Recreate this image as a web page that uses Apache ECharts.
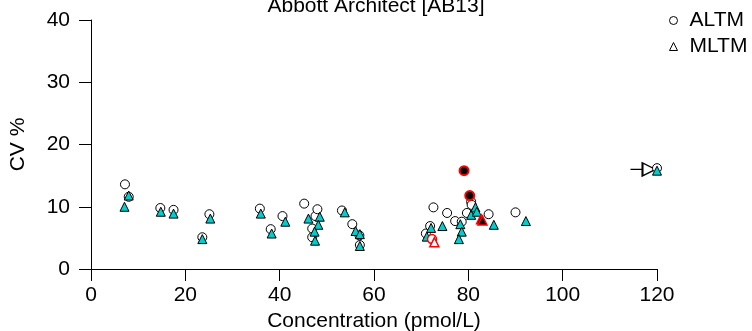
<!DOCTYPE html>
<html><head><meta charset="utf-8">
<script src="https://cdn.jsdelivr.net/npm/echarts@6/dist/echarts.min.js"></script>
<style>html,body{margin:0;padding:0;background:#fff}#c{width:752px;height:331px}</style>
</head><body><div id="c"></div>
<script>
const titleText = 'Abbott Architect [AB13]';
const xName = 'Concentration (pmol/L)';
const yName = 'CV %';
const xTicks = [0, 20, 40, 60, 80, 100, 120];
const yTicks = [0, 10, 20, 30, 40];
const altm = [[7.2,13.6],[8.0,11.6],[14.7,9.8],[17.5,9.5],[23.6,5.1],[25.1,8.8],[35.8,9.7],[38.1,6.4],[40.6,8.5],[45.2,10.5],[46.9,6.5],[46.9,5.1],[47.6,8.5],[48.0,9.6],[53.2,9.4],[55.4,7.2],[56.9,5.4],[57.0,3.85],[71.0,5.7],[71.9,6.9],[72.6,9.9],[75.5,9.0],[77.2,7.7],[78.6,7.6],[79.7,9.0],[80.6,10.8],[80.7,10.3],[84.3,8.8],[90.0,9.1],[120,16.2]];
const mltm = [[7.1,10.0],[8.0,11.8],[14.8,9.2],[17.5,8.9],[23.6,4.8],[25.3,8.1],[36.0,8.9],[38.3,5.7],[41.2,7.6],[46.1,8.1],[48.5,8.4],[48.2,7.1],[47.4,6.0],[47.5,4.55],[53.8,9.1],[56.1,6.1],[57.0,5.6],[57.0,3.7],[71.2,5.2],[72.1,6.6],[74.5,6.9],[78.3,7.2],[78.6,6.0],[78.0,4.8],[80.6,8.7],[81.5,9.9],[81.8,9.2],[85.4,7.1],[92.2,7.7],[120,15.8]];
const altmFlagFilled = [[79.1,15.8],[80.3,11.8]];
const altmFlagOpen = [[72.3,4.8]];
const mltmFlagOpen = [[72.8,4.3]];
const mltmFlagFilled = [[82.7,8.0],[83.0,7.8]];
const offScale = [[120,16]];

const FONT = '"Liberation Sans", Arial, Helvetica, sans-serif';
const chart = echarts.init(document.getElementById('c'), null, {renderer:'canvas'});
const axisCommon = {
  axisLine:{show:true,lineStyle:{color:'#000',width:1}},
  axisTick:{show:true,length:12,inside:false,lineStyle:{color:'#000',width:1}},
  splitLine:{show:false},
  nameLocation:'middle',
  nameTextStyle:{color:'#000',fontSize:21,fontFamily:FONT},
};
chart.setOption({
  animation:false,
  backgroundColor:'#fff',
  title:{text:titleText,left:'center',top:-9,textStyle:{color:'#000',fontSize:21,fontWeight:'normal',fontFamily:FONT}},
  legend:{
    orient:'vertical',left:664,top:5,itemWidth:8,itemHeight:8,itemGap:5,
    textStyle:{color:'#000',fontSize:21,fontFamily:FONT,padding:[0,0,0,7]},
    data:[
      {name:'ALTM',icon:'circle',itemStyle:{color:'#fff',borderColor:'#000',borderWidth:1}},
      {name:'MLTM',icon:'triangle',itemStyle:{color:'#fff',borderColor:'#000',borderWidth:1}}
    ]
  },
  grid:{left:91,right:95,top:20,bottom:62,containLabel:false,outerBoundsMode:'none'},
  xAxis:Object.assign({},axisCommon,{
    type:'value',min:xTicks[0],max:xTicks[xTicks.length-1],interval:20,
    name:xName,nameGap:38,
    axisLabel:{color:'#000',fontSize:21,fontFamily:FONT,margin:16}
  }),
  yAxis:Object.assign({},axisCommon,{
    type:'value',min:yTicks[0],max:yTicks[yTicks.length-1],interval:10,
    name:yName,nameGap:62,
    axisLabel:{color:'#000',fontSize:21,fontFamily:FONT,margin:21}
  }),
  series:[
    {name:'ALTM',type:'scatter',data:altm,symbol:'circle',symbolSize:9,
      itemStyle:{color:'#fff',borderColor:'#000',borderWidth:1,opacity:1},z:2},
    {name:'MLTM',type:'scatter',data:mltm,symbol:'triangle',symbolSize:9,
      itemStyle:{color:'#00CDCD',borderColor:'#000',borderWidth:1,opacity:1},z:3},
    {name:'ALTM',type:'scatter',data:altmFlagFilled,symbol:'circle',symbolSize:9,
      itemStyle:{color:'#000',borderColor:'#ff0000',borderWidth:2,opacity:1},z:4},
    {name:'ALTM',type:'scatter',data:altmFlagOpen,symbol:'circle',symbolSize:9,
      itemStyle:{color:'#fff',borderColor:'#ff0000',borderWidth:1.5,opacity:1},z:4},
    {name:'MLTM',type:'scatter',data:mltmFlagOpen,symbol:'triangle',symbolSize:9,
      itemStyle:{color:'#fff',borderColor:'#ff0000',borderWidth:1.5,opacity:1},z:5},
    {name:'MLTM',type:'scatter',data:mltmFlagFilled,symbol:'triangle',symbolSize:9,
      itemStyle:{color:'#000',borderColor:'#ff0000',borderWidth:1.5,opacity:1},z:5},
    {name:'offscale',type:'scatter',data:offScale,
      symbol:'path://M0,6.5 L12,6.5 M12,0 L25,6.5 L12,13 Z',symbolSize:[25,13],symbolOffset:[-14,0],
      itemStyle:{color:'#fff',borderColor:'#000',borderWidth:1.5,opacity:1},z:1}
  ]
});
</script></body></html>
